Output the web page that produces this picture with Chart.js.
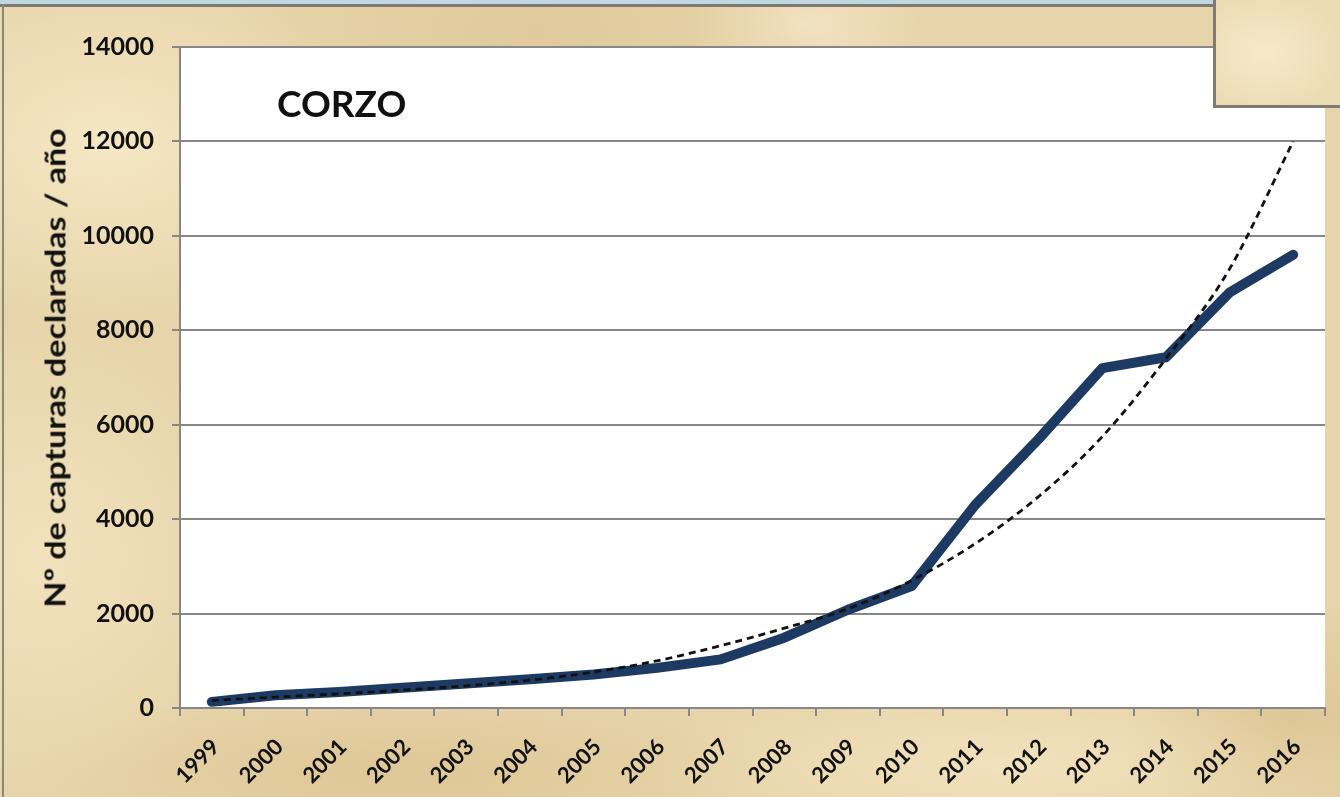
<!DOCTYPE html>
<html>
<head>
<meta charset="utf-8">
<script src="https://cdn.jsdelivr.net/npm/chart.js@4/dist/chart.umd.min.js"></script>
<style>
  html, body { margin:0; padding:0; width:1340px; height:797px; overflow:hidden; }
  body {
    position:relative;
    background-color:#e7d4aa;
    background-image:
      radial-gradient(ellipse 260px 180px at 8% 18%, rgba(250,238,205,0.75), rgba(250,238,205,0) 100%),
      radial-gradient(ellipse 300px 160px at 40% 4%, rgba(215,190,140,0.45), rgba(215,190,140,0) 100%),
      radial-gradient(ellipse 220px 240px at 3% 70%, rgba(246,232,196,0.7), rgba(246,232,196,0) 100%),
      radial-gradient(ellipse 380px 90px at 30% 97%, rgba(214,188,136,0.55), rgba(214,188,136,0) 100%),
      radial-gradient(ellipse 360px 90px at 75% 96%, rgba(248,234,200,0.6), rgba(248,234,200,0) 100%),
      radial-gradient(ellipse 160px 120px at 96% 90%, rgba(210,182,128,0.5), rgba(210,182,128,0) 100%),
      radial-gradient(ellipse 120px 60px at 60% 3%, rgba(250,238,210,0.6), rgba(250,238,210,0) 100%);
  }
  #topstrip { position:absolute; left:0; top:0; width:1340px; height:4px; background:#c2d7e2; }
  #topline { position:absolute; left:0; top:4px; width:1340px; height:3px; background:#7d7a74; }
  #leftline { position:absolute; left:2px; top:4px; width:2px; height:793px; background:#8a867e; }
  #box { position:absolute; left:1213px; top:-3px; width:124px; height:105px; border:3px solid #7f7b74;
         background:#ecdcb4; background-image: radial-gradient(ellipse 80px 60px at 40% 50%, rgba(250,240,212,0.7), rgba(250,240,212,0) 100%); }
  canvas { position:absolute; left:0; top:0; }
  #title { position:absolute; left:277px; top:81px; font-family:Lato, 'Open Sans', sans-serif; font-weight:700;
           font-size:37px; line-height:44px; color:#111; }
  #ytitle { position:absolute; left:54px; top:368px; white-space:nowrap;
            font-family:Lato, 'Open Sans', sans-serif; font-weight:700; font-size:29px; line-height:29px; color:#111;
            transform: translate(-50%, -50%) rotate(-90deg) scaleX(1.17); transform-origin:center center; }
</style>
</head>
<body>
<div id="topstrip"></div>
<div id="topline"></div>
<div id="leftline"></div>
<canvas id="c" width="1340" height="797"></canvas>
<div id="title">CORZO</div>
<div id="ytitle"></div>
<div id="box"></div>
<script>
const years = ['1999','2000','2001','2002','2003','2004','2005','2006','2007','2008','2009','2010','2011','2012','2013','2014','2015','2016'];
const capturas = [130, 270, 340, 430, 520, 610, 710, 850, 1030, 1490, 2080, 2580, 4300, 5700, 7200, 7430, 8800, 9600];
const tendencia = [160, 230, 300, 380, 470, 590, 760, 1000, 1320, 1690, 2100, 2700, 3480, 4480, 5750, 7400, 9300, 12000];
const yMin = 0, yMax = 14000, yStep = 2000;
const yTitle = 'Nº de capturas declaradas / año';

document.getElementById('ytitle').textContent = yTitle;

const plotBg = {
  id:'plotBg',
  beforeDraw(chart){
    const {ctx, chartArea:a} = chart;
    ctx.save();
    ctx.fillStyle = '#ffffff';
    ctx.fillRect(a.left, a.top, a.right - a.left, a.bottom - a.top);
    ctx.restore();
  }
};

const FONT = "Lato, 'Open Sans', sans-serif";
const GRID = '#878787';

new Chart(document.getElementById('c'), {
  type:'line',
  data:{
    labels: years,
    datasets:[
      { label:'Tendencia', data: tendencia, borderColor:'#111111', borderWidth:2.8, borderDash:[7,5],
        pointRadius:0, fill:false, cubicInterpolationMode:'monotone', order:0 },
      { label:'Capturas', data: capturas, borderColor:'#1d3a63', borderWidth:10, pointRadius:0, fill:false,
        tension:0, borderJoinStyle:'round', borderCapStyle:'round', order:1 }
    ]
  },
  options:{
    responsive:false,
    animation:false,
    devicePixelRatio:1,
    layout:{ padding:{ left:0, top:47, right:15, bottom:0 } },
    plugins:{ legend:{display:false}, tooltip:{enabled:false}, title:{display:false} },
    scales:{
      x:{
        offset:true,
        grid:{ display:true, drawOnChartArea:false, drawTicks:true, tickLength:8, offset:true, color:GRID, lineWidth:2 },
        border:{ display:true, color:GRID, width:2 },
        ticks:{ minRotation:45, maxRotation:45, autoSkip:false, padding:18, labelOffset:4, color:'#111',
                font:{ family:FONT, weight:'bold', size:22 } },
        afterFit(scale){ scale.height = 89; }
      },
      y:{
        min:yMin, max:yMax,
        grid:{ color:GRID, lineWidth:2, tickLength:8, drawTicks:true },
        border:{ display:true, color:GRID, width:2 },
        ticks:{ stepSize:yStep, padding:18, color:'#111', font:{ family:FONT, weight:'bold', size:25 },
                callback:(v)=>String(v) },
        title:{ display:false },
        afterFit(scale){ scale.width = 180; }
      }
    }
  },
  plugins:[plotBg]
});
</script>
</body>
</html>
